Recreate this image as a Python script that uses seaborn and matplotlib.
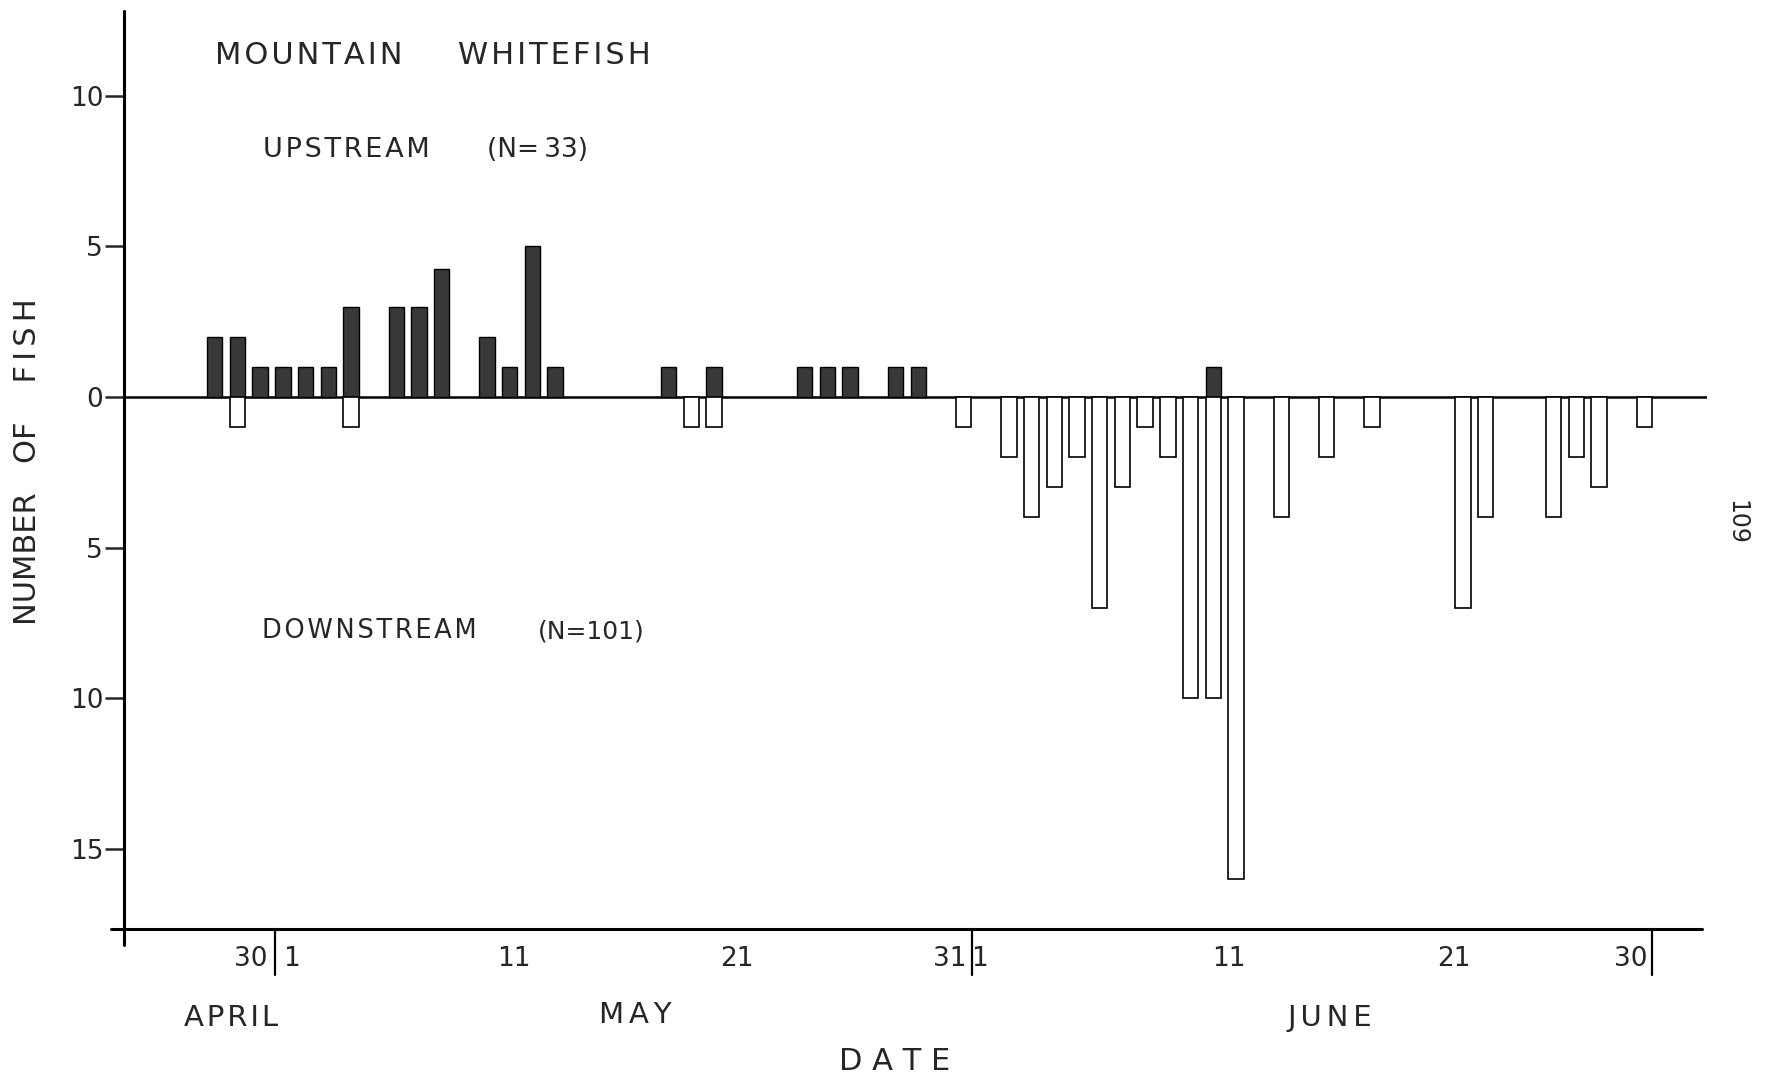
import numpy as np
import seaborn as sns
import matplotlib.pyplot as plt

# days counted from 30 April (0 = Apr 30, 1 = May 1, 32 = June 1, 61 = June 30)
up_days = [-2, -1, 0, 1, 2, 3, 4, 6, 7, 8, 10, 11, 12, 13, 18, 20, 24, 25, 26, 28, 29, 42]
up_counts = [2, 2, 1, 1, 1, 1, 3, 3, 3, 4.25, 2, 1, 5, 1, 1, 1, 1, 1, 1, 1, 1, 1]

down_days = [-1, 4, 19, 20, 31, 33, 34, 35, 36, 37, 38, 39, 40, 41, 42, 43,
             45, 47, 49, 53, 54, 57, 58, 59, 61]
down_counts = [1, 1, 1, 1, 1, 2, 4, 3, 2, 7, 3, 1, 2, 10, 10, 16,
               4, 2, 1, 7, 4, 4, 2, 3, 1]

y_ticks = [10, 5, 0, -5, -10, -15]
x_tick_labels = ["30", "1", "11", "21", "31", "1", "11", "21", "30"]
x_tick_pos = [-0.4, 1.4, 11.2, 21.0, 30.4, 31.7, 42.7, 52.6, 60.4]
month_breaks = [0.65, 31.35, 61.35]

sns.set_style('white')
plt.rcParams['font.family'] = ['DejaVu Sans']

HAIR = '\u200a'
SIXTH = '\u2006'


def track(s, gap=HAIR):
    # fake letter spacing of the stencilled lettering
    return gap.join(s)


W, H = 1773, 1080
fig = plt.figure(figsize=(W / 100, H / 100), dpi=100)
ax = fig.add_axes([124 / W, 1 - 929 / H, (1707 - 124) / W, (929 - 11) / H])

# upstream (filled) and downstream (open) counts
sns.barplot(x=up_days, y=up_counts, native_scale=True, orient='x', width=0.68,
            color='#383838', saturation=1, edgecolor='black', linewidth=1,
            errorbar=None, ax=ax)
sns.barplot(x=down_days, y=[-v for v in down_counts], native_scale=True, orient='x',
            width=0.68, color='white', saturation=1, edgecolor='black', linewidth=1.2,
            errorbar=None, ax=ax)

ax.set_xlim(-6.0, 63.76)
ax.set_ylim(-17.67, 12.82)
ax.axhline(0, color='black', lw=1.8, zorder=0)

for s in ax.spines.values():
    s.set_visible(False)
# hand-drawn style axis lines
ax.plot([0, 0], [-0.0174, 1], color='black', lw=2.2, transform=ax.transAxes, clip_on=False)
ax.plot([-0.0082, 0.9968], [0, 0], color='black', lw=2.2, transform=ax.transAxes, clip_on=False)
xt = ax.get_xaxis_transform()
for b in month_breaks:
    ax.plot([b, b], [0, -0.05], color='black', lw=1.6, transform=xt, clip_on=False)

ax.set_yticks(y_ticks)
ax.set_yticklabels([str(abs(v)) for v in y_ticks], fontsize=19)
ax.tick_params(axis='y', direction='out', length=14, width=1.8, pad=1, left=True)
ax.set_xticks([])
ax.set_xlabel('')
ax.set_ylabel('')
for p, lab in zip(x_tick_pos, x_tick_labels):
    ax.text(p, -0.033, lab, transform=xt, ha='center', va='center', fontsize=19)

# titles and annotations
fig.text(215 / W, 1 - 55 / H, track('MOUNTAIN'), fontsize=22, va='center', ha='left')
fig.text(458 / W, 1 - 55 / H, track('WHITEFISH'), fontsize=22, va='center', ha='left')
fig.text(263 / W, 1 - 150 / H, track('UPSTREAM'), fontsize=19.5, va='center', ha='left')
fig.text(487 / W, 1 - 150 / H, '(N=\u200933)', fontsize=19, va='center', ha='left')
fig.text(262 / W, 1 - 631 / H, track('DOWNSTREAM'), fontsize=18.5, va='center', ha='left')
fig.text(538 / W, 1 - 631 / H, '(N=101)', fontsize=18, va='center', ha='left')

fig.text(231 / W, 1 - 1018 / H, track('APRIL'), fontsize=21, va='center', ha='center')
fig.text(635 / W, 1 - 1015 / H, track('MAY', SIXTH), fontsize=21, va='center', ha='center')
fig.text(1330 / W, 1 - 1018 / H, track('JUNE', SIXTH), fontsize=21, va='center', ha='center')
fig.text(895 / W, 1 - 1061 / H, 'D A T E', fontsize=22, va='center', ha='center')
fig.text(28 / W, 1 - 462 / H, 'NUMBER   OF    ' + track('FISH', SIXTH), fontsize=22,
         rotation=90, va='center', ha='center')
fig.text(1736 / W, 1 - 522 / H, '109', fontsize=17, rotation=270, va='center', ha='center')

fig.savefig('out.png', dpi=100)
plt.close(fig)
